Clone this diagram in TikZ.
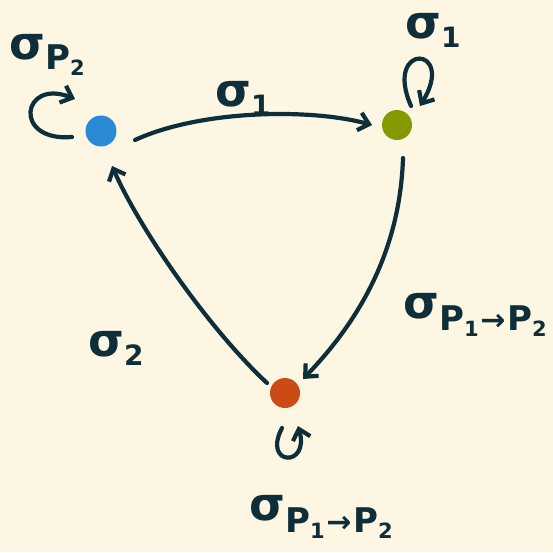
\documentclass[tikz,border=0pt]{standalone}
\usepackage{fontspec}
\setmainfont{DejaVu Sans}
\usetikzlibrary{arrows.meta,calc}
\definecolor{bgc}{HTML}{FDF6E3}
\definecolor{ink}{HTML}{0E2F3A}
\definecolor{cblue}{HTML}{2B8AD6}
\definecolor{cgreen}{HTML}{859900}
\definecolor{corange}{HTML}{CB4B16}
\newcommand{\bigsig}{{\fontsize{46}{46}\selectfont σ}}
\newcommand{\subP}[1]{{\fontsize{34}{34}\selectfont P}\raisebox{-6pt}{\fontsize{21}{21}\selectfont #1}}
\newcommand{\subD}[1]{\raisebox{-9pt}{\fontsize{28}{28}\selectfont #1}}
\tikzset{
  dotnode/.style={circle,inner sep=0pt,minimum size=#1},
  arr/.style={draw=ink,line width=4.2pt,line cap=round,-{Straight Barb[length=10pt,width=18pt,line width=4.2pt]}},
  lbl/.style={text=ink,inner sep=0pt,font=\bfseries}
}
\begin{document}
\begin{tikzpicture}[x=1pt,y=-1pt]
\fill[bgc] (0,0) rectangle (553,552);
\useasboundingbox (0,0) rectangle (553,552);
\node[dotnode=31pt,fill=cblue] (b) at (101,131) {};
\node[dotnode=30pt,fill=cgreen] (g) at (397,125) {};
\node[dotnode=30pt,fill=corange] (o) at (285,393) {};
% main arrows
\draw[arr] ($(b)+(34,9)$) .. controls (200,110) and (310,108) .. ($(g)+(-25,0)$);
\draw[arr] ($(g)+(6,33)$) .. controls (400,250) and (360,320) .. ($(o)+(18,-14)$);
\draw[arr] ($(o)+(-18,-10)$) .. controls (210,330) and (140,230) .. ($(b)+(11,35)$);
% self loops
\draw[arr] ($(b)+(-29,6)$) .. controls (12,142) and (22,78) .. ($(b)+(-26,-32)$);
\draw[arr] ($(g)+(14,-19)$) .. controls (383,42) and (457,45) .. ($(g)+(23,-19)$);
\draw[arr] ($(o)+(-3,35)$) .. controls (262,466) and (310,468) .. ($(o)+(13,33)$);
% labels
\node[lbl] (l1) at (47,55) {\bigsig\raisebox{-10pt}{\subP{2}}};
\node[lbl] (l2) at (433,30) {\bigsig\subD{1}};
\node[lbl] (l3) at (243,98) {\bigsig\subD{1}};
\node[lbl] (l4) at (116,348) {\bigsig\subD{2}};
\node[lbl] (l5) at (475,315) {\bigsig\raisebox{-12pt}{\subP{1}\,{\fontsize{30}{30}\selectfont →}\,\subP{2}}};
\node[lbl] (l6) at (321,517) {\bigsig\raisebox{-12pt}{\subP{1}\,{\fontsize{30}{30}\selectfont →}\,\subP{2}}};
\end{tikzpicture}
\end{document}
